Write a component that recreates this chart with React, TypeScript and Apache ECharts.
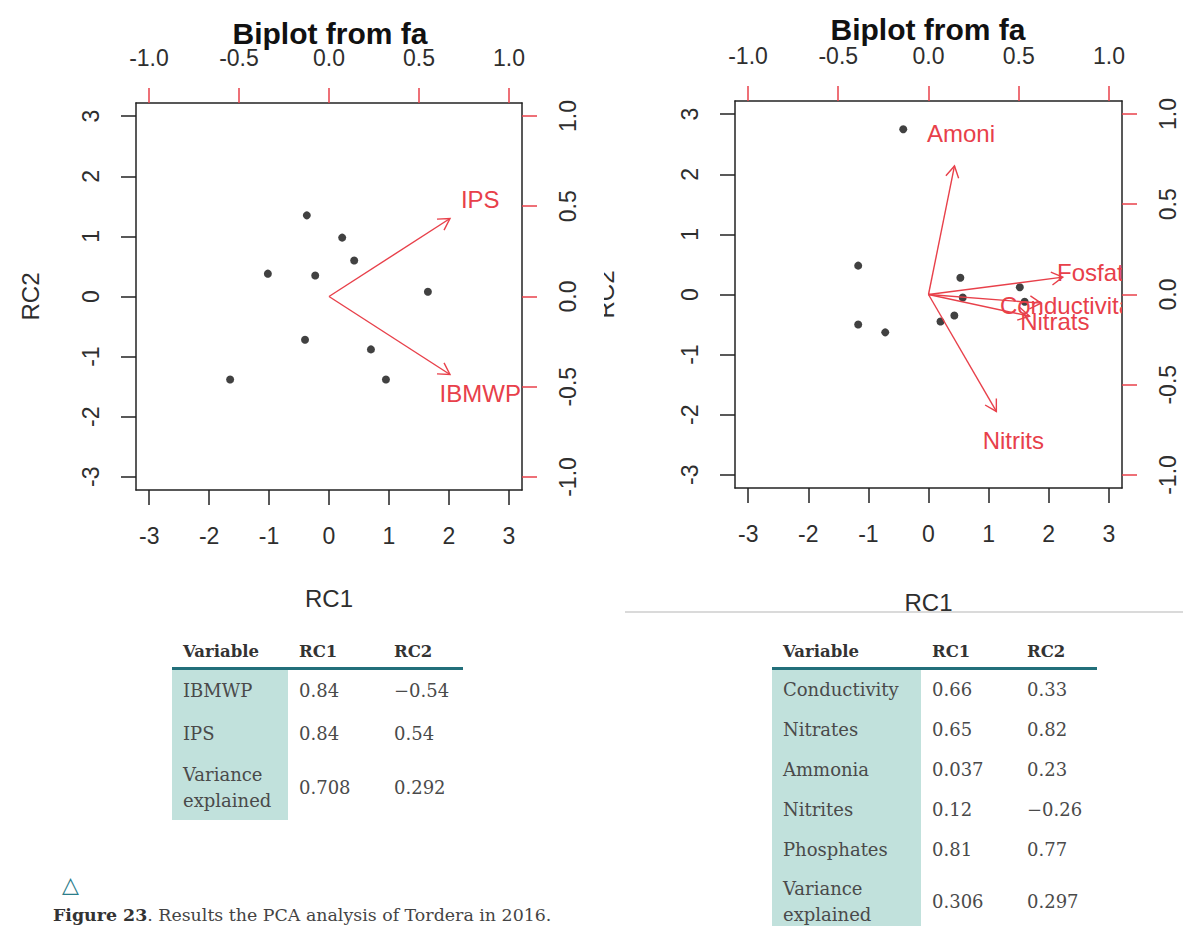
import React, { useEffect, useRef } from 'react';
import * as echarts from 'echarts';

const RED = '#e8404a';
const INK = '#2e2e2e';
const SANS = '"Liberation Sans", Arial, sans-serif';
const SERIF = '"DejaVu Serif", serif';
const TEAL_BG = '#c1e1dc';
const TEAL_LINE = '#226f7a';

// Biological indices biplot: sample scores
const idxScoresRC1 = [-0.37, 0.22, 0.42, -1.02, -0.23, 1.65, -0.4, 0.7, 0.95, -1.65];
const idxScoresRC2 = [1.35, 0.98, 0.6, 0.38, 0.35, 0.08, -0.72, -0.88, -1.38, -1.38];
// Biological indices biplot: variable loadings
const idxVars = ['IPS', 'IBMWP'];
const idxLoadRC1 = [0.84, 0.84];
const idxLoadRC2 = [0.54, -0.54];

// Physico-chemical biplot: sample scores
const chemScoresRC1 = [-0.42, -1.17, 0.53, 1.52, 0.57, 1.6, 0.43, 0.2, -1.17, -0.72];
const chemScoresRC2 = [2.75, 0.48, 0.28, 0.12, -0.05, -0.12, -0.35, -0.45, -0.5, -0.63];
// Physico-chemical biplot: variable loadings
const chemVars = ['Amoni', 'Fosfats', 'Conductivitat', 'Nitrats', 'Nitrits'];
const chemLoadRC1 = [0.18, 0.93, 0.78, 0.7, 0.47];
const chemLoadRC2 = [0.89, 0.12, -0.06, -0.15, -0.81];

const scoreTicks = [-3, -2, -1, 0, 1, 2, 3];
const loadTicks = [-1, -0.5, 0, 0.5, 1];
const scoreLimit = 3.22;
const loadLimit = 1.072;
const arrowShrink = 0.8;

// Loadings tables
const tableHeader = ['Variable', 'RC1', 'RC2'];
const idxTableRows = [
  ['IBMWP', '0.84', '\u22120.54'],
  ['IPS', '0.84', '0.54'],
  ['Variance explained', '0.708', '0.292'],
];
const chemTableRows = [
  ['Conductivity', '0.66', '0.33'],
  ['Nitrates', '0.65', '0.82'],
  ['Ammonia', '0.037', '0.23'],
  ['Nitrites', '0.12', '\u22120.26'],
  ['Phosphates', '0.81', '0.77'],
  ['Variance explained', '0.306', '0.297'],
];

const captionLabel = 'Figure 23';
const captionText = '. Results the PCA analysis of Tordera in 2016.';

const panels = [
  {
    grid: { left: 136, top: 103, width: 386, height: 387 },
    title: { x: 330, y: 18 },
    rc1Gap: 96,
    rc2Gap: 94,
    scores: [idxScoresRC1, idxScoresRC2],
    loads: [idxLoadRC1, idxLoadRC2],
    names: idxVars,
  },
  {
    grid: { left: 735, top: 101, width: 387, height: 387 },
    title: { x: 928, y: 14 },
    rc1Gap: 102,
    rc2Gap: 118,
    scores: [chemScoresRC1, chemScoresRC2],
    loads: [chemLoadRC1, chemLoadRC2],
    names: chemVars,
  },
];

const labelStyle = { fontSize: 23, color: INK, fontFamily: SANS };
const nameStyle = { fontSize: 24, color: INK, fontFamily: SANS };
const boxLine = { show: true, onZero: false, lineStyle: { color: '#222', width: 1.5 } };

function buildOption() {
  const grids: any[] = [];
  const xAxes: any[] = [];
  const yAxes: any[] = [];
  const series: any[] = [];
  const titles: any[] = [];

  panels.forEach((p, i) => {
    grids.push({ ...p.grid, containLabel: false, show: false });
    titles.push({
      text: 'Biplot from fa',
      left: p.title.x,
      top: p.title.y,
      textAlign: 'center',
      padding: 0,
      textStyle: { fontSize: 30, fontWeight: 'bold', color: '#111', fontFamily: SANS },
    });

    xAxes.push({
      type: 'value', gridIndex: i, position: 'bottom',
      min: -scoreLimit, max: scoreLimit,
      axisLine: boxLine,
      axisTick: { show: true, length: 15, customValues: scoreTicks, lineStyle: { color: '#222', width: 1.5 } },
      axisLabel: { ...labelStyle, margin: 34, customValues: scoreTicks },
      splitLine: { show: false },
      name: 'RC1', nameLocation: 'middle', nameGap: p.rc1Gap, nameTextStyle: nameStyle,
    });
    xAxes.push({
      type: 'value', gridIndex: i, position: 'top',
      min: -loadLimit, max: loadLimit,
      axisLine: boxLine,
      axisTick: { show: true, length: 15, customValues: loadTicks, lineStyle: { color: RED, width: 1.5 } },
      axisLabel: { ...labelStyle, margin: 34, customValues: loadTicks, formatter: (v: number) => v.toFixed(1) },
      splitLine: { show: false },
    });
    yAxes.push({
      type: 'value', gridIndex: i, position: 'left',
      min: -scoreLimit, max: scoreLimit,
      axisLine: boxLine,
      axisTick: { show: true, length: 15, customValues: scoreTicks, lineStyle: { color: '#222', width: 1.5 } },
      axisLabel: { ...labelStyle, margin: 34, rotate: 90, customValues: scoreTicks },
      splitLine: { show: false },
      name: 'RC2', nameLocation: 'middle', nameGap: p.rc2Gap, nameTextStyle: nameStyle,
    });
    yAxes.push({
      type: 'value', gridIndex: i, position: 'right',
      min: -loadLimit, max: loadLimit,
      axisLine: boxLine,
      axisTick: { show: true, length: 15, customValues: loadTicks, lineStyle: { color: RED, width: 1.5 } },
      axisLabel: { ...labelStyle, margin: 34, rotate: 90, customValues: loadTicks, formatter: (v: number) => v.toFixed(1) },
      splitLine: { show: false },
    });

    series.push({
      type: 'scatter',
      xAxisIndex: 2 * i, yAxisIndex: 2 * i,
      symbol: 'circle', symbolSize: 8,
      itemStyle: { color: '#111' },
      data: p.scores[0].map((x, k) => [x, p.scores[1][k]]),
      z: 3,
    });

    const names = p.names;
    series.push({
      type: 'custom',
      xAxisIndex: 2 * i + 1, yAxisIndex: 2 * i + 1,
      clip: true,
      data: p.loads[0].map((x, k) => [x, p.loads[1][k]]),
      renderItem: (params: any, api: any) => {
        const lx = api.value(0);
        const ly = api.value(1);
        const o = api.coord([0, 0]);
        const e = api.coord([lx * arrowShrink, ly * arrowShrink]);
        const l = api.coord([lx, ly]);
        const ang = Math.atan2(e[1] - o[1], e[0] - o[0]);
        const h = 13;
        const a = Math.PI / 6;
        const p1 = [e[0] - h * Math.cos(ang - a), e[1] - h * Math.sin(ang - a)];
        const p2 = [e[0] - h * Math.cos(ang + a), e[1] - h * Math.sin(ang + a)];
        return {
          type: 'group',
          children: [
            { type: 'line', shape: { x1: o[0], y1: o[1], x2: e[0], y2: e[1] }, style: { stroke: RED, lineWidth: 1.4 } },
            { type: 'polyline', shape: { points: [p1, e, p2] }, style: { stroke: RED, fill: null, lineWidth: 1.4 } },
            {
              type: 'text', x: l[0], y: l[1],
              style: {
                text: names[params.dataIndex], fill: RED, fontSize: 24, fontFamily: SANS,
                align: 'center', verticalAlign: 'middle', textAlign: 'center', textVerticalAlign: 'middle',
              },
            },
          ],
        };
      },
      z: 4,
    });
  });

  return {
    animation: false,
    backgroundColor: '#fff',
    title: titles,
    grid: grids,
    xAxis: xAxes,
    yAxis: yAxes,
    series,
    graphic: [
      // right figure's left margin cuts off part of its RC2 label
      { type: 'rect', shape: { x: 584, y: 240, width: 20, height: 110 }, style: { fill: '#fff' }, z: 100 },
      { type: 'line', shape: { x1: 625, y1: 612, x2: 1183, y2: 612 }, style: { stroke: '#dadada', lineWidth: 2 }, z: 100 },
    ],
  };
}

function DataTable(props: { left: number; widths: number[]; rows: string[][]; heights: number[] }) {
  const { left, widths, rows, heights } = props;
  const top = 636;
  const headH = 31;
  const xs = [left, left + widths[0], left + widths[0] + widths[1]];
  const total = widths[0] + widths[1] + widths[2];
  const bodyTop = top + headH + 3;
  const bodyH = heights.reduce((s, v) => s + v, 0);
  let y = bodyTop;
  const cells: any[] = [];
  rows.forEach((r, ri) => {
    r.forEach((c, ci) => {
      cells.push(
        <div
          key={`${ri}-${ci}`}
          style={{
            position: 'absolute', left: xs[ci], top: y, width: widths[ci], height: heights[ri],
            display: 'flex', alignItems: 'center', boxSizing: 'border-box', paddingLeft: 11,
            fontFamily: SERIF, fontSize: 18, lineHeight: '26px', color: '#4a4a4a',
          }}
        >
          {c}
        </div>
      );
    });
    y += heights[ri];
  });
  return (
    <>
      <div style={{ position: 'absolute', left, top: bodyTop, width: widths[0], height: bodyH, background: TEAL_BG }} />
      <div style={{ position: 'absolute', left, top: top + headH, width: total, height: 3, background: TEAL_LINE }} />
      {tableHeader.map((t, ci) => (
        <div
          key={`h${ci}`}
          style={{
            position: 'absolute', left: xs[ci], top, width: widths[ci], height: headH,
            display: 'flex', alignItems: 'center', boxSizing: 'border-box', paddingLeft: 11,
            fontFamily: SERIF, fontSize: 16.5, fontWeight: 'bold', color: '#333',
          }}
        >
          {t}
        </div>
      ))}
      {cells}
    </>
  );
}

export default function App() {
  const ref = useRef<HTMLDivElement>(null);
  useEffect(() => {
    if (!ref.current) return;
    const chart = echarts.init(ref.current, null, { renderer: 'svg' });
    chart.setOption(buildOption() as any);
    return () => chart.dispose();
  }, []);

  return (
    <div style={{ position: 'absolute', left: 0, top: 0, width: 1183, height: 926, overflow: 'hidden', background: '#fff' }}>
      <div ref={ref} style={{ position: 'absolute', left: 0, top: 0, width: 1183, height: 626 }} />
      <DataTable left={172} widths={[116, 95, 80]} rows={idxTableRows} heights={[42, 44, 64]} />
      <DataTable left={772} widths={[149, 95, 81]} rows={chemTableRows} heights={[40, 40, 40, 40, 40, 64]} />
      <div style={{ position: 'absolute', left: 62, top: 872, fontFamily: '"DejaVu Sans", sans-serif', fontSize: 22, lineHeight: '26px', color: '#2b7d8a' }}>
        {'\u25B3'}
      </div>
      <div style={{ position: 'absolute', left: 53, top: 904, fontFamily: SERIF, fontSize: 17.4, lineHeight: '22px', color: '#444', whiteSpace: 'nowrap' }}>
        <b style={{ color: '#333' }}>{captionLabel}</b>
        {captionText}
      </div>
    </div>
  );
}
